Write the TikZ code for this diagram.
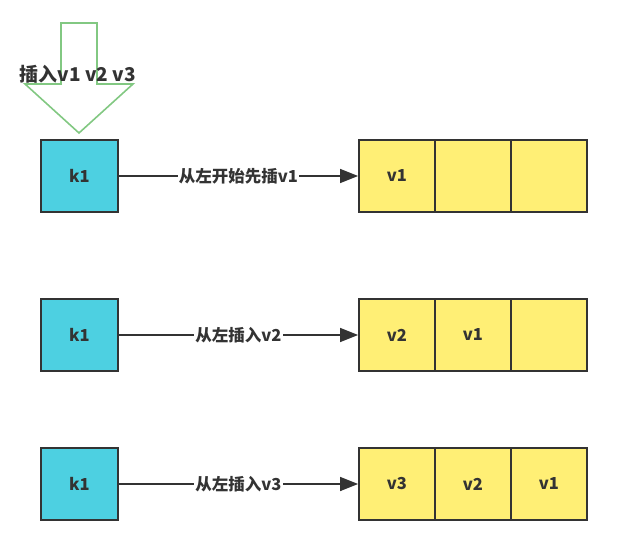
\documentclass[tikz,border=0pt]{standalone}
\usepackage{fontspec}
\newfontfamily\cjk{Noto Sans CJK SC}
\usepackage{tikz}
\usetikzlibrary{positioning,arrows.meta}
\definecolor{ink}    {HTML}{333333}
\definecolor{keyblue}{HTML}{4DD0E1}
\definecolor{listyel}{HTML}{FFEF75}
\definecolor{pushgrn}{HTML}{82C882}
\tikzset{
  every node/.style={font=\fontsize{16.5}{19}\selectfont\cjk\bfseries, text=ink},
  % --- nodes
  keybox/.style = {draw=ink, fill=keyblue, line width=1.8pt, minimum width=77pt,
                   minimum height=72pt, inner sep=0pt},
  cell/.style   = {draw=ink, fill=listyel, line width=1.8pt, minimum width=76pt,
                   minimum height=72pt, inner sep=0pt},
  lbl/.style    = {fill=white, inner sep=1pt},
  % --- edges
  e/.style      = {-{Triangle[length=18pt,width=14pt]}, line width=1.5pt, draw=ink},
}
\begin{document}
\begin{tikzpicture}[x=1pt,y=-1pt]
  \useasboundingbox (0,0) rectangle (639,540);

  % push arrow
  \draw[pushgrn, line width=1.6pt, line join=miter]
    (61,23) -- (97,23) -- (97,84) -- (133,84) -- (79,133) -- (25,84) -- (61,84) -- cycle;
  \node[font=\fontsize{19}{22}\selectfont\cjk\bfseries] (push) at (78,74) {插入v1 v2 v3};

  % row 1
  \node[keybox] (k1) at (79.5,176) {k1};
  \node[cell] (a1) at (397,176) {v1};
  \node[cell] (a2) at (473,176) {};
  \node[cell] (a3) at (549,176) {};
  \draw[e] (k1) -- node[lbl] {从左开始先插v1} (a1);

  % row 2
  \node[keybox] (k2) at (79.5,335) {k1};
  \node[cell] (b1) at (397,335) {v2};
  \node[cell] (b2) at (473,335) {v1};
  \node[cell] (b3) at (549,335) {};
  \draw[e] (k2) -- node[lbl] {从左插入v2} (b1);

  % row 3
  \node[keybox] (k3) at (79.5,484) {k1};
  \node[cell] (c1) at (397,484) {v3};
  \node[cell] (c2) at (473,484) {v2};
  \node[cell] (c3) at (549,484) {v1};
  \draw[e] (k3) -- node[lbl] {从左插入v3} (c1);
\end{tikzpicture}
\end{document}
